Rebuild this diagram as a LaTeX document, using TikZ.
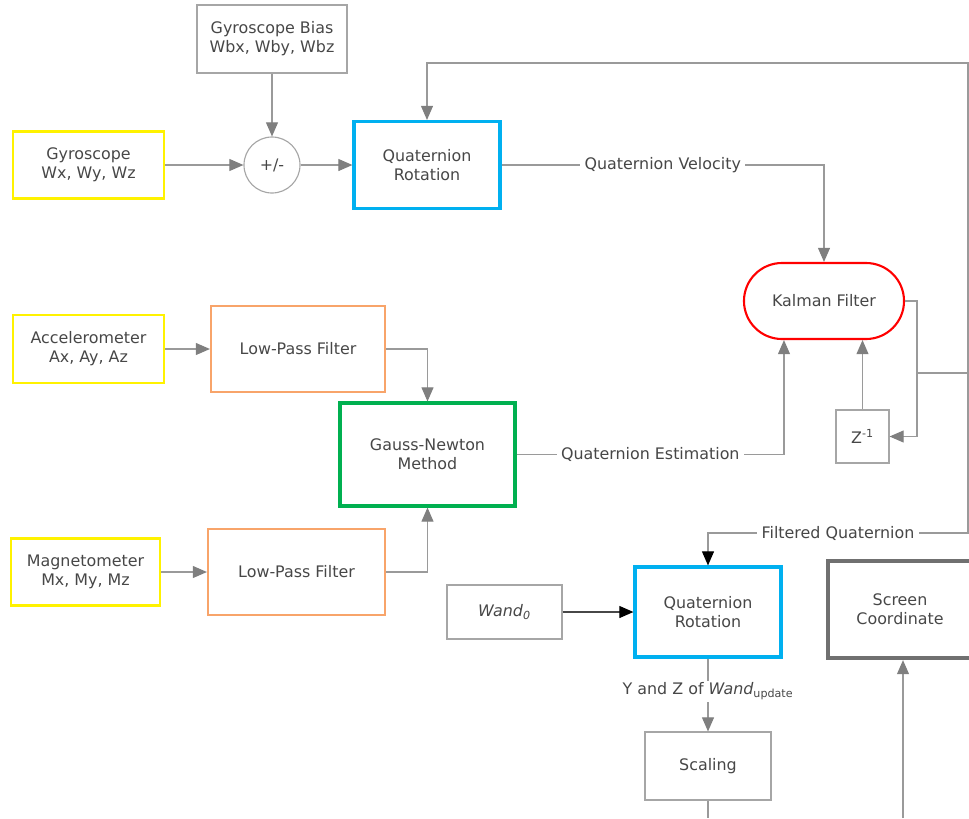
\documentclass[tikz,border=0pt]{standalone}
\usepackage{fontspec}
\setmainfont{DejaVu Sans}
\usetikzlibrary{arrows.meta, positioning, calc}
\definecolor{txtg}{HTML}{474747}
\definecolor{boxg}{HTML}{A6A6A6}
\definecolor{lineg}{HTML}{9A9A9A}
\definecolor{headg}{HTML}{7F7F7F}
\definecolor{sensy}{HTML}{FFF200}
\definecolor{lpfo}{HTML}{F8A46A}
\definecolor{rotb}{HTML}{00B0F0}
\definecolor{gnewt}{HTML}{00B050}
\definecolor{kalr}{HTML}{FF0000}
\definecolor{scrg}{HTML}{707070}

\begin{document}
\begin{tikzpicture}[
    x=0.025cm, y=-0.025cm,
    every node/.style={font=\fontsize{11.3}{13.5}\selectfont, text=txtg, align=center},
    box/.style={draw=boxg, line width=0.8pt, inner sep=2pt},
    sensor/.style={box, draw=sensy, line width=1.5pt},
    lpf/.style={box, draw=lpfo, line width=1.5pt},
    rot/.style={box, draw=rotb, line width=2.2pt},
    line/.style={draw=lineg, line width=0.8pt},
    arr/.style={line, -{Triangle[length=10pt, width=8.5pt, color=headg]}},
    arrk/.style={line, -{Triangle[length=10pt, width=8.5pt, color=black]}},
    lbl/.style={fill=white, inner sep=3pt}
]
    \useasboundingbox (0,0) rectangle (969,818);

    % ===== gyroscope path =====
    \node[box, minimum width=3.75cm, minimum height=1.7cm] (gbias) at (272, 39) {Gyroscope Bias\\Wbx, Wby, Wbz};
    \node[sensor, minimum width=3.775cm, minimum height=1.675cm] (gyro) at (88.5, 165) {Gyroscope\\Wx, Wy, Wz};
    \node[draw=boxg, line width=0.8pt, circle, minimum size=1.4cm, inner sep=0pt] (sum) at (272, 165) {+/-};
    \node[rot, minimum width=3.65cm, minimum height=2.175cm] (qrot1) at (427, 165) {Quaternion\\Rotation};
    \draw[arr] (gbias) -- (sum);
    \draw[arr] (gyro) -- (sum);
    \draw[arr] (sum) -- (qrot1);

    % ===== Kalman filter =====
    \node[draw=kalr, line width=1.5pt, rounded corners=0.95cm, minimum width=4cm, minimum height=1.9cm] (kalman) at (824, 301) {Kalman Filter};
    \node[box, minimum size=1.325cm] (zinv) at (862.5, 436.5) {Z\textsuperscript{-1}};
    \coordinate (split) at (917, 373);
    \coordinate (rail) at (968, 373);
    \coordinate (ctop) at (968, 63);
    \coordinate (cbot) at (968, 533);
    \draw[arr] (qrot1.east) -| node[lbl, pos=0.25] {Quaternion Velocity} (kalman.north);
    \draw[arr] (kalman.east) -- (kalman.east -| split) |- (zinv.east);
    \draw[line] (split) -- (rail);
    \draw[arr] (zinv.north) -- (zinv.north |- kalman.south);
    \draw[arr] (rail) -- (ctop) -| (qrot1.north);

    % ===== accelerometer / magnetometer =====
    \node[sensor, minimum width=3.775cm, minimum height=1.7cm] (acc) at (88.5, 349) {Accelerometer\\Ax, Ay, Az};
    \node[lpf, minimum width=4.35cm, minimum height=2.15cm] (lpf1) at (298, 349) {Low-Pass Filter};
    \node[rot, draw=gnewt, minimum width=4.375cm, minimum height=2.575cm] (gn) at (427.5, 454.5) {Gauss-Newton\\Method};
    \node[sensor, minimum width=3.725cm, minimum height=1.675cm] (mag) at (85.5, 572) {Magnetometer\\Mx, My, Mz};
    \node[lpf, minimum width=4.425cm, minimum height=2.15cm] (lpf2) at (296.5, 572) {Low-Pass Filter};
    \draw[arr] (acc) -- (lpf1);
    \draw[arr] (mag) -- (lpf2);
    \draw[arr] (lpf1.east) -| (gn.north);
    \draw[arr] (lpf2.east) -| (gn.south);
    \draw[arr] (gn.east) -| node[lbl, pos=0.25] {Quaternion Estimation} ([xshift=-1cm]kalman.south);

    % ===== wand output =====
    \node[box, minimum width=2.875cm, minimum height=1.35cm] (wand) at (504.5, 612) {\textit{Wand}\textsubscript{\textit{0}}};
    \node[rot, minimum width=3.65cm, minimum height=2.25cm] (qrot2) at (708, 612) {Quaternion\\Rotation};
    \node[box, draw=scrg, line width=3pt, minimum width=3.6cm, minimum height=2.425cm] (screen) at (900, 609.5) {Screen\\Coordinate};
    \node[box, minimum width=3.15cm, minimum height=1.7cm] (scal) at (708, 766) {Scaling};
    \coordinate (sbot) at (708, 818);
    \coordinate (sin) at (903, 818);
    \draw[arrk] (rail) -- (cbot) -| node[lbl, pos=0.25] {Filtered Quaternion} (qrot2.north);
    \draw[arrk, draw=txtg] (wand) -- (qrot2);
    \draw[arr] (qrot2) -- node[lbl, pos=0.45, inner sep=1pt] {Y and Z of \textit{Wand}\textsubscript{update}} (scal);
    \draw[line] (scal) -- (sbot);
    \draw[arr] (sin) -- (sin |- screen.south);
\end{tikzpicture}
\end{document}
